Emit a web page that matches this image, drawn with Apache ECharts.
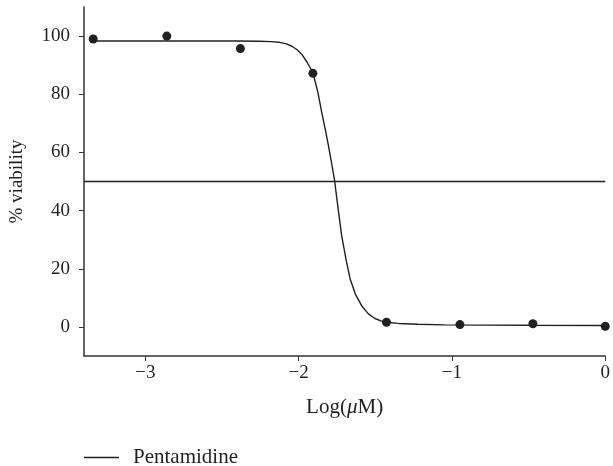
<!DOCTYPE html>
<html>
<head>
<meta charset="utf-8">
<script src="https://cdn.jsdelivr.net/npm/echarts@6/dist/echarts.min.js"></script>
<style>
html,body{margin:0;padding:0;background:#fff;}
#chart{width:613px;height:466px;}
</style>
</head>
<body>
<div id="chart"></div>
<script>
// Measured data points (log concentration, % viability)
const pointX = [-3.34, -2.86, -2.38, -1.907, -1.427, -0.948, -0.472, 0.0];
const pointY = [99.0, 100.0, 95.7, 87.2, 1.6, 0.8, 1.1, 0.2];

// Fitted curve
const curveX = [-3.36, -2.9, -2.6, -2.4, -2.26, -2.18, -2.13, -2.08, -2.044, -2.01, -1.979, -1.945, -1.907, -1.875, -1.849, -1.825, -1.805, -1.785, -1.766, -1.742, -1.719, -1.69, -1.664, -1.63, -1.589, -1.545, -1.502, -1.46, -1.427, -1.35, -1.221, -1.05, -0.8, -0.5, 0.0];
const curveY = [98.3, 98.3, 98.3, 98.3, 98.2, 98.1, 97.9, 97.3, 96.5, 95.3, 93.7, 91.0, 87.4, 80.8, 73.7, 67.6, 62.2, 56.3, 50.5, 40.5, 31.3, 23.0, 16.5, 11.3, 7.3, 4.5, 2.9, 2.0, 1.6, 1.2, 0.9, 0.7, 0.6, 0.55, 0.5];

const referenceLine = 50;
const seriesName = 'Pentamidine';
const xTicks = [-3, -2, -1, 0];
const yTicks = [0, 20, 40, 60, 80, 100];

const ink = '#231f20';
const axisInk = '#333';
const font = 'Liberation Serif';

const chart = echarts.init(document.getElementById('chart'), null, {renderer: 'canvas'});
chart.setOption({
  animation: false,
  backgroundColor: '#fff',
  grid: {left: 84, right: 5, top: 7, bottom: 110, containLabel: false},
  legend: {
    data: [{name: seriesName, icon: 'rect'}],
    left: 79, top: 442, padding: 5,
    itemWidth: 35, itemHeight: 1.3, itemGap: 10,
    textStyle: {fontFamily: font, fontSize: 21, color: ink, padding: [0, 0, 0, 9]}
  },
  xAxis: {
    type: 'value', min: -3.4, max: 0, interval: 1,
    axisLine: {show: true, onZero: false, lineStyle: {color: axisInk, width: 1.5}},
    axisTick: {show: true, length: 5, inside: false, lineStyle: {color: axisInk},
      customValues: xTicks},
    axisLabel: {fontFamily: font, fontSize: 19, color: ink, margin: 8,
      customValues: xTicks,
      formatter: v => (v < 0 ? '\u2212' + Math.abs(v) : String(v))},
    splitLine: {show: false},
    name: '{n|Log(}{i|\u03bc}{n|M)}',
    nameLocation: 'middle', nameGap: 41,
    nameTextStyle: {rich: {
      n: {fontFamily: font, fontSize: 21, color: ink},
      i: {fontFamily: font, fontSize: 21, color: ink, fontStyle: 'italic'}
    }}
  },
  yAxis: {
    type: 'value', min: -10, max: 110, interval: 20,
    axisLine: {show: true, onZero: false, lineStyle: {color: axisInk, width: 1.5}},
    axisTick: {show: true, length: 5, lineStyle: {color: axisInk},
      customValues: yTicks},
    axisLabel: {fontFamily: font, fontSize: 19, color: ink, margin: 14,
      customValues: yTicks},
    splitLine: {show: false},
    name: '% viability', nameLocation: 'middle', nameGap: 57,
    nameTextStyle: {fontFamily: font, fontSize: 19, color: ink}
  },
  series: [
    {
      name: seriesName, type: 'line',
      data: curveX.map((x, i) => [x, curveY[i]]),
      smooth: false,
      symbol: 'none', showSymbol: false,
      lineStyle: {color: ink, width: 1.4},
      itemStyle: {color: ink},
      markLine: {
        silent: true, symbol: 'none', label: {show: false},
        lineStyle: {color: ink, width: 1.4, type: 'solid'},
        data: [{yAxis: referenceLine}]
      },
      z: 2
    },
    {
      name: 'points', type: 'scatter',
      data: pointX.map((x, i) => [x, pointY[i]]),
      symbol: 'circle', symbolSize: 9,
      itemStyle: {color: ink, opacity: 1},
      z: 3
    }
  ]
});
</script>
</body>
</html>
